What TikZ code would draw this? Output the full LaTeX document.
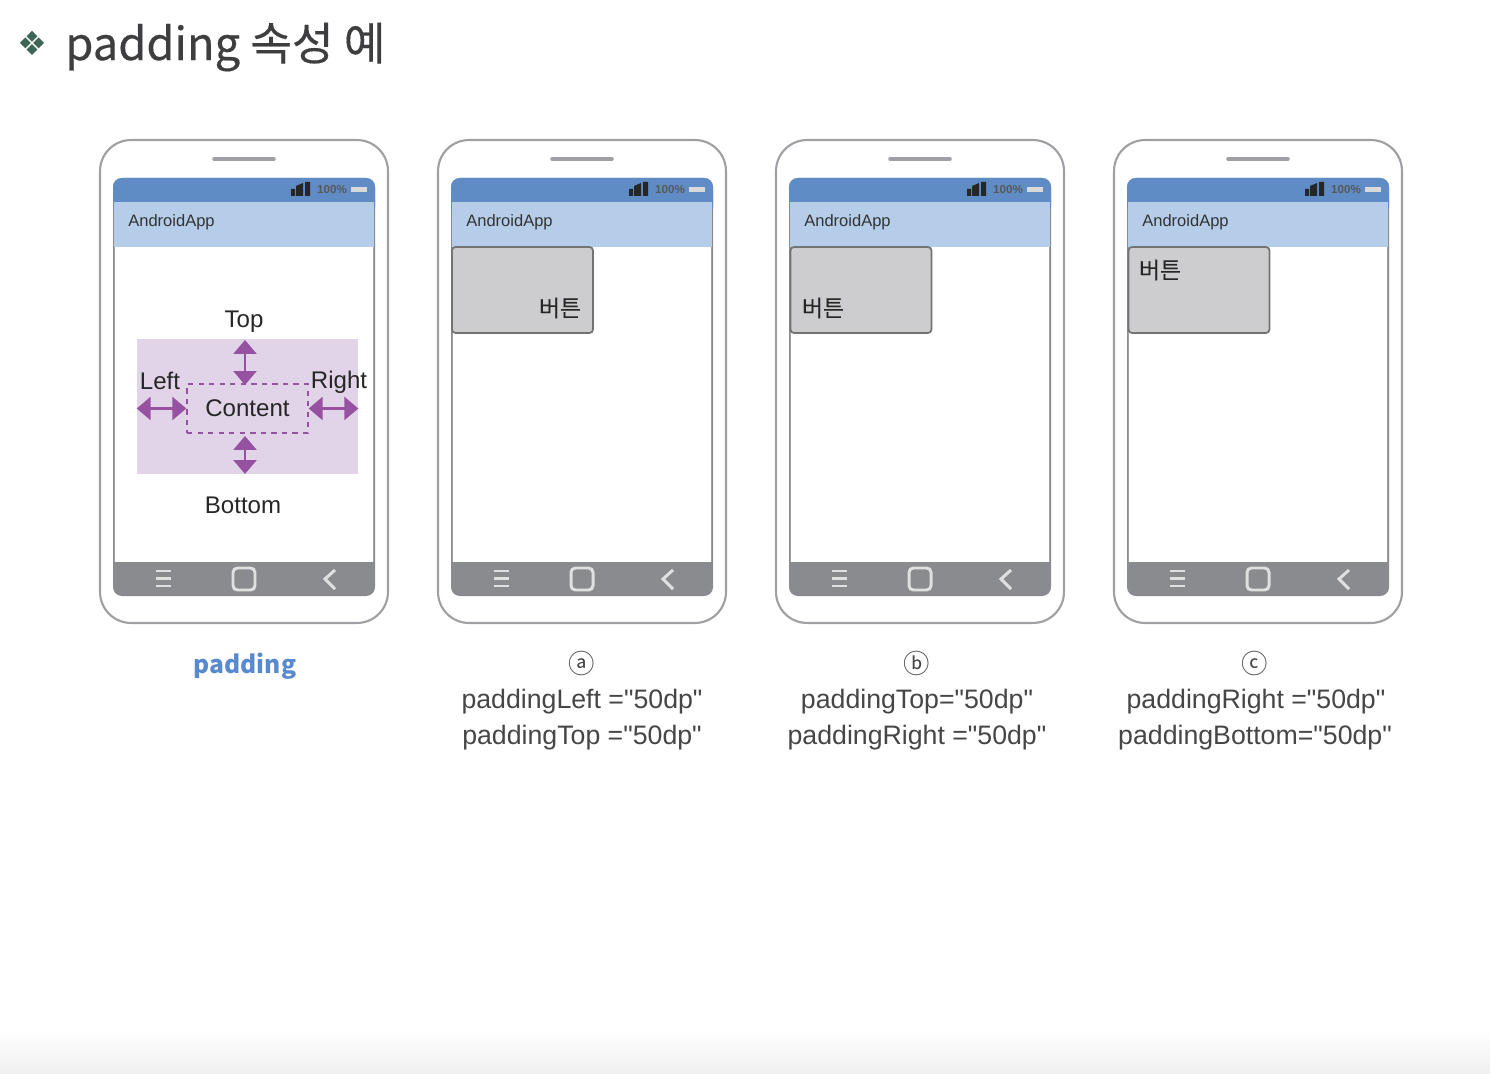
\documentclass[tikz,border=0pt]{standalone}
\usepackage{fontspec}
\setmainfont{Liberation Sans}
\newfontfamily\capfont{Liberation Sans}
\newfontfamily\krfont{Noto Sans CJK KR}
\newfontfamily\krheavy[FakeBold=0.35]{Noto Sans CJK KR}
\newfontfamily\symfont{DejaVu Sans}
\usetikzlibrary{positioning, arrows.meta}
\definecolor{shell}{RGB}{158, 160, 163}
\definecolor{statusblue}{RGB}{96, 140, 197}
\definecolor{appblue}{RGB}{181, 205, 233}
\definecolor{navgray}{RGB}{138, 139, 142}
\definecolor{btngray}{RGB}{205, 205, 207}
\definecolor{padpurple}{RGB}{226, 212, 232}
\definecolor{arrowpurple}{RGB}{150, 82, 160}
\definecolor{captext}{RGB}{70, 70, 72}
\definecolor{titletext}{RGB}{62, 62, 64}
\definecolor{bullet}{RGB}{62, 102, 86}
\definecolor{linkblue}{RGB}{88, 138, 205}

\begin{document}
\begin{tikzpicture}[
    x=0.02cm, y=-0.02cm,
    phonebox/.style={
        draw=shell,
        line width=1.2pt,
        rounded corners=0.62cm,
        fill=white,
        minimum width=5.76cm,
        minimum height=9.66cm,
        inner sep=0pt
    },
    btnbox/.style={
        draw=black!55,
        line width=1pt,
        rounded corners=2pt,
        fill=btngray,
        minimum width=2.82cm,
        minimum height=1.72cm,
        inner sep=0pt
    },
    applbl/.style={font=\fontsize{9.4}{11}\selectfont, text=black!80, inner sep=0pt},
    pctlbl/.style={font=\fontsize{6.6}{7}\selectfont\bfseries, text=black!65, inner sep=0pt},
    btnlbl/.style={font=\krheavy\fontsize{13}{16}\selectfont, text=black!85, inner sep=0pt},
    sidelbl/.style={font=\fontsize{13.7}{16}\selectfont, text=black!85, inner sep=0pt},
    caplbl/.style={font=\capfont\fontsize{15.2}{20}\selectfont, text=captext, inner sep=0pt},
    circlbl/.style={font=\krfont\fontsize{15}{18}\selectfont, text=captext, inner sep=0pt},
    padarrow/.style={
        {Triangle[length=0.28cm, width=0.46cm]}-{Triangle[length=0.28cm, width=0.46cm]},
        arrowpurple,
        line width=1.5pt
    }
]
\useasboundingbox (0,0) rectangle (1490,1074);
\fill[white] (0,0) rectangle (1490,1074);
\shade[top color=white, bottom color=black!6] (0,1030) rectangle (1490,1074);

% === Title ===
\node[font=\symfont\fontsize{19}{24}\selectfont, text=bullet, inner sep=0pt] (mark) at (32,43) {❖};
\node[font=\krheavy\fontsize{25.8}{30}\selectfont, text=titletext, inner sep=0pt, anchor=west] (title) at (65,47) {padding 속성 예};

% === Phones ===
\foreach \i in {0,1,2,3} {
\begin{scope}[shift={(\i*338,0)}]
    \node[phonebox] (phone\i) at (244,381.5) {};
    \draw[shell, line width=2pt, line cap=round] (214,159) -- (274,159);
    % screen
    \fill[navgray, rounded corners=5pt] (113,178) rectangle (375,596);
    \fill[statusblue, rounded corners=5pt] (113,178) rectangle (375,215);
    \fill[appblue] (114,202) rectangle (374,247);
    \fill[white] (115,247) rectangle (373,562);
    \draw[shell, line width=1pt] (114.5,247) -- (114.5,562) (373.5,247) -- (373.5,562);
    % status icons
    \fill[black!85] (291,189) rectangle (295,196) (296,186) -- (303,183) -- (303,196) -- (296,196) -- cycle (305,182) rectangle (310,196);
    \node[pctlbl] (pct\i) at (332,189.5) {100\%};
    \fill[black!15] (351,187) rectangle (367,192);
    \node[applbl, anchor=west] (app\i) at (128,222) {AndroidApp};
    % nav icons
    \draw[black!12, line width=1.5pt] (156,571) -- (171,571) (156,578.5) -- (171,578.5) (156,586) -- (171,586);
    \draw[black!12, line width=1.7pt, rounded corners=2.5pt] (233,568) rectangle (255,590);
    \draw[black!12, line width=1.7pt] (335,570) -- (325,579) -- (335,589);
\end{scope}
}

% === Padding sketch ===
\node[fill=padpurple, minimum width=4.42cm, minimum height=2.7cm, inner sep=0pt] (padbox) at (247.5,406.5) {};
\node[draw=arrowpurple, dashed, line width=0.8pt, minimum width=2.42cm, minimum height=0.98cm, inner sep=0pt,
      font=\fontsize{13.7}{16}\selectfont, text=black!85] (content) at (247.5,408.5) {Content};
\node[sidelbl] (toplbl) at (244,322) {Top};
\node[sidelbl] (bottomlbl) at (243,505) {Bottom};
\node[sidelbl] (leftlbl) at (160,381) {Left};
\node[sidelbl] (rightlbl) at (339,382) {Right};

\coordinate (topa) at (245,340);
\coordinate (topb) at (245,385);
\coordinate (bota) at (245,436);
\coordinate (botb) at (245,474);
\draw[padarrow] (topa) -- (topb);
\draw[padarrow] (bota) -- (botb);
\draw[padarrow] (padbox.west |- content.west) -- (content.west);
\draw[padarrow] (content.east) -- (padbox.east |- content.east);

% === Buttons ===
\node[btnbox] (btna) at (522.5,290) {};
\node[btnbox] (btnb) at (861,290) {};
\node[btnbox] (btnc) at (1199,290) {};
\node[btnlbl] (txta) at (560,308) {버튼};
\node[btnlbl] (txtb) at (823,308) {버튼};
\node[btnlbl] (txtc) at (1160,270) {버튼};

% === Captions ===
\node[font=\krfont\bfseries\fontsize{14}{18}\selectfont, text=linkblue, inner sep=0pt] (cap0) at (245,666) {padding};
\node[circlbl] (cira) at (582,663) {ⓐ};
\node[caplbl] (capa1) at (582,702) {paddingLeft ="50dp"};
\node[caplbl] (capa2) at (582,738) {paddingTop ="50dp"};
\node[circlbl] (cirb) at (917,663) {ⓑ};
\node[caplbl] (capb1) at (917,702) {paddingTop="50dp"};
\node[caplbl] (capb2) at (917,738) {paddingRight ="50dp"};
\node[circlbl] (circ) at (1255,663) {ⓒ};
\node[caplbl] (capc1) at (1256,702) {paddingRight ="50dp"};
\node[caplbl] (capc2) at (1255,738) {paddingBottom="50dp"};

\end{tikzpicture}
\end{document}
